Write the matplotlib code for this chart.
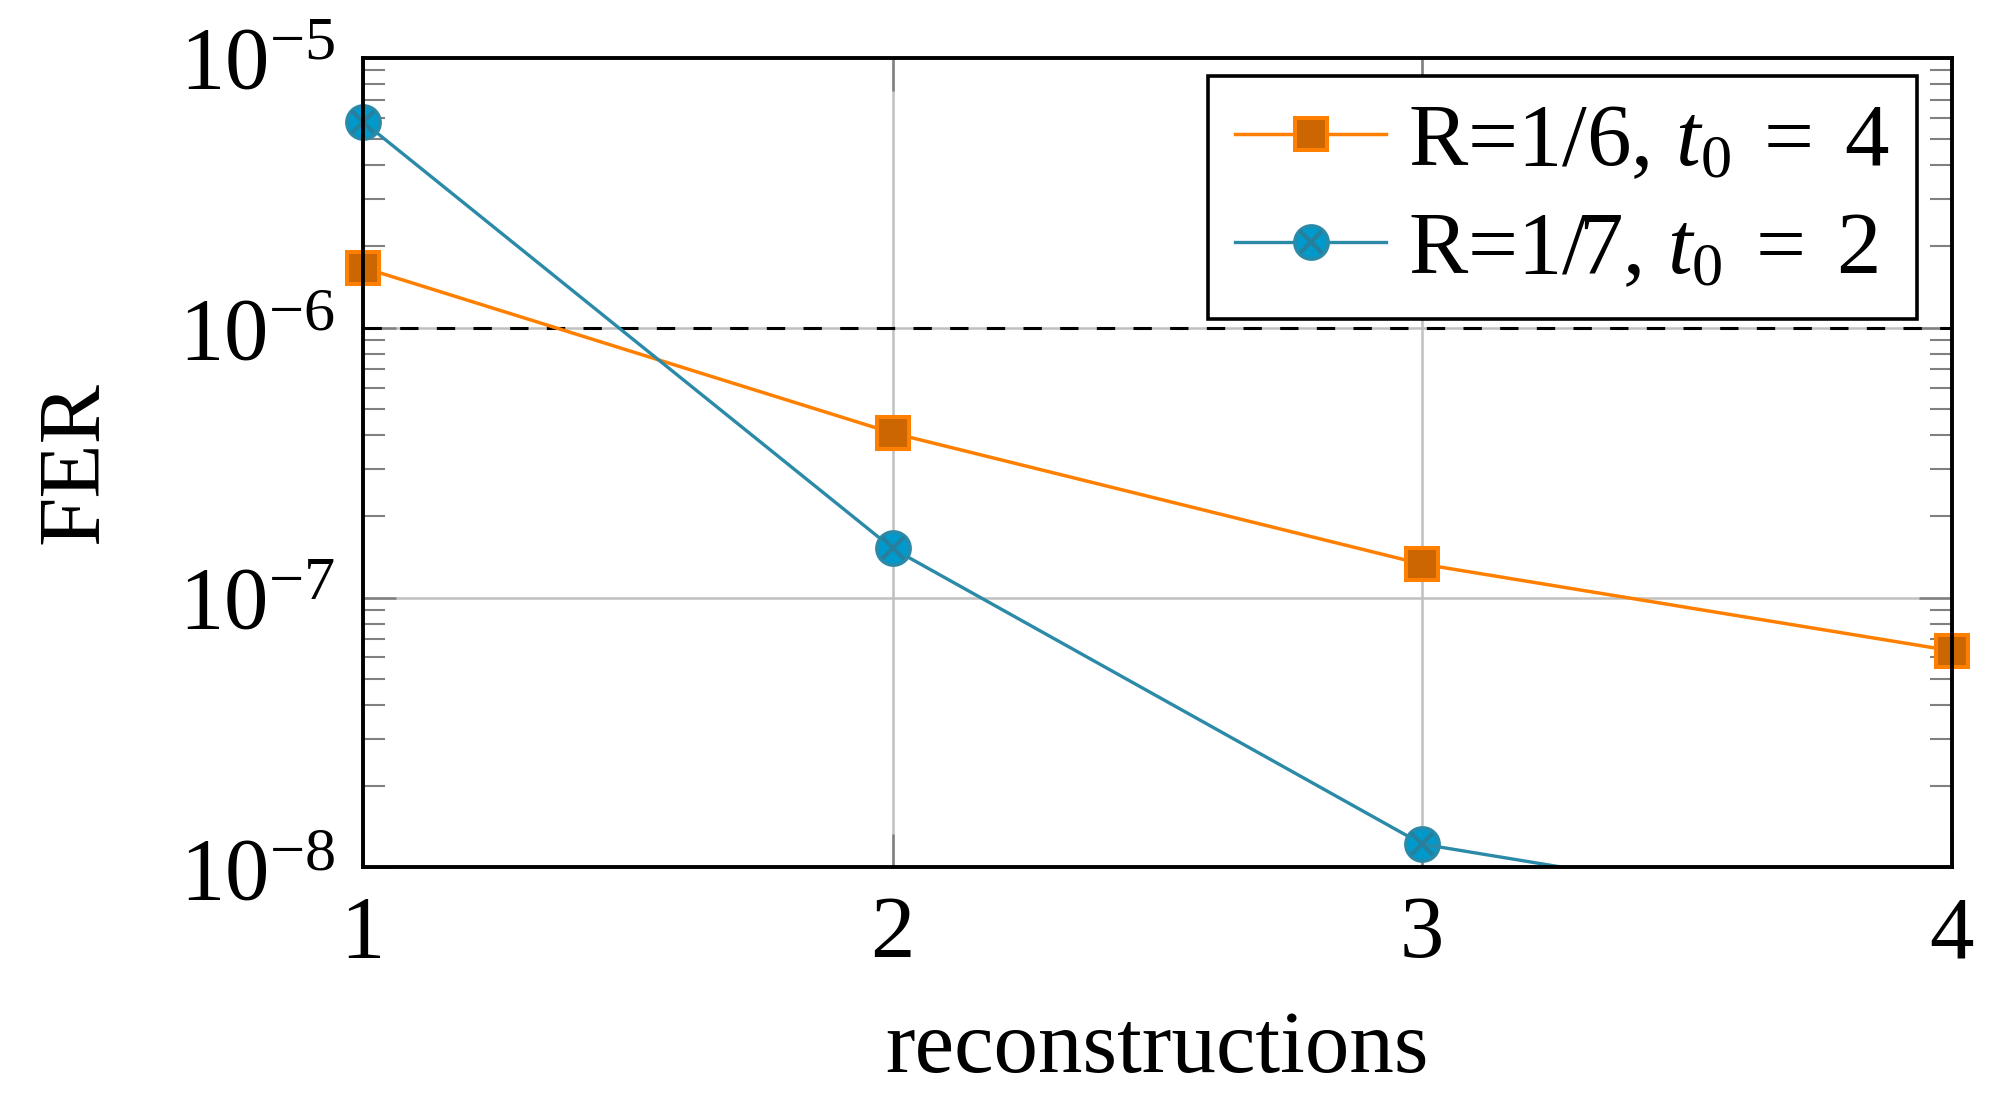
import matplotlib
matplotlib.use("Agg")
import matplotlib.pyplot as plt
from matplotlib.legend_handler import HandlerTuple
from matplotlib.ticker import LogLocator, NullFormatter, FixedLocator

# Данные
reconstructions = [1, 2, 3, 4]
fer_r16 = [1.67e-6, 4.07e-7, 1.33e-7, 6.35e-8]   # R=1/6, t0=4
fer_r17 = [5.8e-6, 1.52e-7, 1.22e-8, 5.8e-9]      # R=1/7, t0=2
target_fer = 1e-6
label_r16 = r"R=1/6, $t_0\;=\;4$"
label_r17 = r"R=1/7, $t_0\;=\;2$"

ORANGE = "#ff8000"
ORANGE_FILL = "#cc6600"
BLUE = "#2b8aa8"
BLUE_FILL = "#0099cc"
GRID = "#c0c0c0"
TICK = "#808080"
FS = 64

plt.rcParams["font.family"] = ["Liberation Serif", "DejaVu Serif"]
plt.rcParams["mathtext.fontset"] = "custom"
plt.rcParams["mathtext.rm"] = "Liberation Serif"
plt.rcParams["mathtext.it"] = "Liberation Serif:italic"
plt.rcParams["font.size"] = FS

fig = plt.figure(figsize=(20.05, 11.1), dpi=100)
ax = fig.add_axes([0.181, 0.2185, 0.9735 - 0.181, 0.948 - 0.2185])

ax.set_yscale("log")
ax.set_xlim(1, 4)
ax.set_ylim(1e-8, 1e-5)

# Сетка
ax.grid(True, which="major", color=GRID, linewidth=1.8, zorder=0)
ax.set_axisbelow(True)

# Порог
ax.axhline(target_fer, color="black", linewidth=2.2, linestyle=(0, (6, 6)), zorder=2)

# Кривые
h1, = ax.plot(reconstructions, fer_r16, color=ORANGE, linewidth=2.5,
              marker="s", markersize=23, markerfacecolor=ORANGE_FILL,
              markeredgecolor=ORANGE, markeredgewidth=2.9, zorder=3, clip_on=False)
h2, = ax.plot(reconstructions[:3], fer_r17[:3], color=BLUE, linewidth=2.4,
              marker="o", markersize=24, markerfacecolor=BLUE_FILL,
              markeredgecolor=BLUE, markeredgewidth=2.5, zorder=4, clip_on=False)
ax.plot(reconstructions[2:], fer_r17[2:], color=BLUE, linewidth=2.4, zorder=4)
h3, = ax.plot(reconstructions[:3], fer_r17[:3], linestyle="none", marker="x",
              markersize=16, markeredgecolor="#267f9c", markeredgewidth=3.0,
              zorder=5, clip_on=False)

# Оси
for s in ax.spines.values():
    s.set_linewidth(2.8)
    s.set_zorder(6)

ax.xaxis.set_major_locator(FixedLocator(reconstructions))
ax.set_xticklabels([str(v) for v in reconstructions])
ax.yaxis.set_major_locator(LogLocator(base=10, numticks=10))
ax.yaxis.set_minor_locator(LogLocator(base=10, subs=range(2, 10), numticks=10))
ax.yaxis.set_minor_formatter(NullFormatter())
ax.tick_params(axis="both", which="major", direction="in", length=24, width=1.8,
               color=TICK, top=True, right=True, labelsize=FS)
ax.tick_params(axis="y", which="minor", direction="in", length=16, width=1.5,
               color=TICK, right=True)
ax.tick_params(axis="x", which="major", pad=20)
ax.tick_params(axis="y", which="major", pad=20)

ax.set_xlabel("reconstructions", fontsize=FS, labelpad=24)
ax.set_ylabel("FER", fontsize=FS, labelpad=46)

leg = ax.legend([h1, (h2, h3)], [label_r16, label_r17],
                handler_map={tuple: HandlerTuple(ndivide=1)},
                loc="upper right", bbox_to_anchor=(0.978, 0.977),
                borderaxespad=0, fancybox=False, framealpha=1,
                edgecolor="black", handlelength=1.7, handletextpad=0.25,
                labelspacing=0.3, borderpad=0.3, fontsize=FS)
leg.get_frame().set_linewidth(2.6)
leg.set_zorder(7)

fig.savefig("out.png", dpi=100)
